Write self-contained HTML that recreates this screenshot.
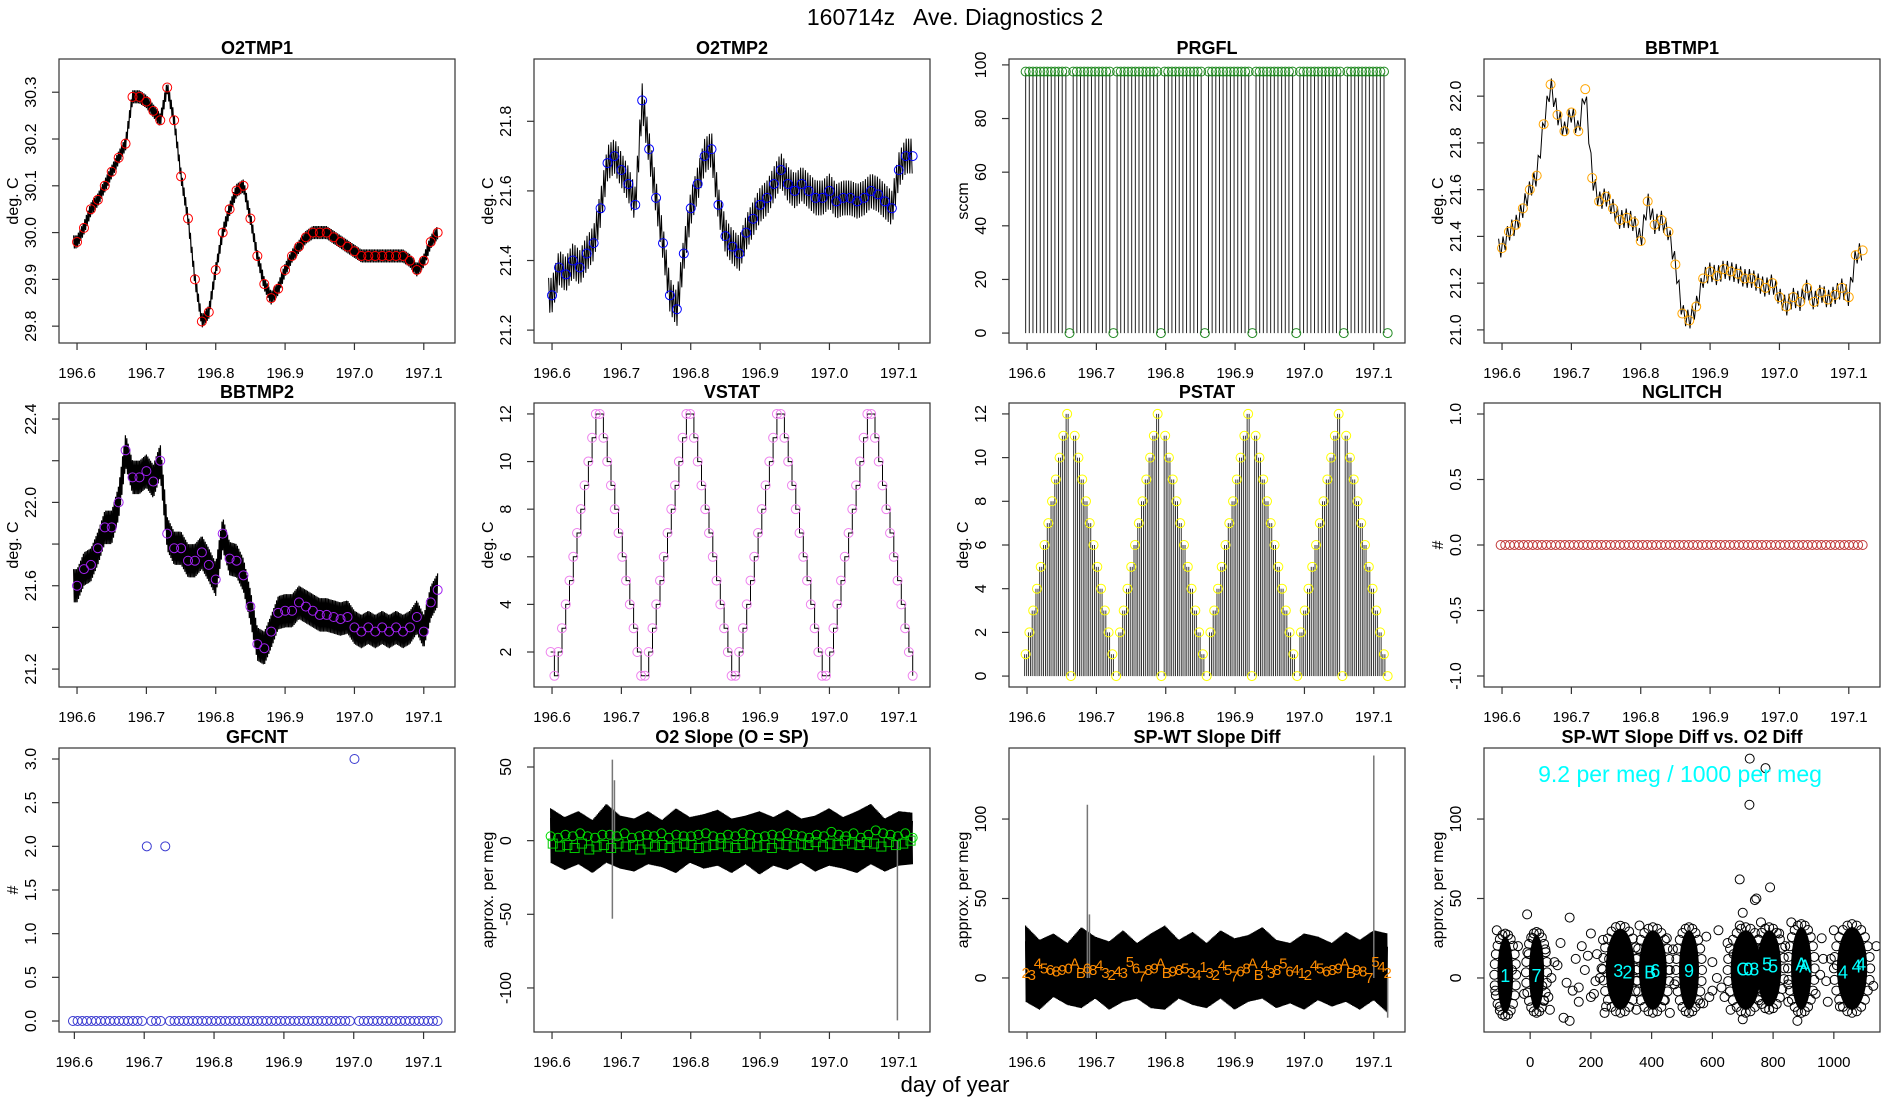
<!DOCTYPE html>
<html><head><meta charset="utf-8"><style>
html,body{margin:0;padding:0;background:#fff;}
svg{display:block;font-family:"Liberation Sans",sans-serif;}
</style></head><body>
<svg id="chart" width="1900" height="1100" viewBox="0 0 1900 1100" xmlns="http://www.w3.org/2000/svg">
<text x="955" y="25" font-size="23" text-anchor="middle" style="white-space:pre">160714z   Ave. Diagnostics 2</text>
<text x="955" y="1092" font-size="22" text-anchor="middle">day of year</text>
</svg>
<script>
// ---------- data ----------
const tempT0 = 196.60, tempDT = 0.01;
const o2tmp1 = [29.98,30.01,30.05,30.07,30.10,30.13,30.16,30.19,30.29,30.29,30.28,30.26,30.24,30.31,30.24,30.12,30.03,29.90,29.81,29.83,29.92,30.00,30.05,30.09,30.10,30.03,29.95,29.89,29.86,29.88,29.92,29.95,29.97,29.99,30.00,30.00,30.00,29.99,29.98,29.97,29.96,29.95,29.95,29.95,29.95,29.95,29.95,29.95,29.94,29.92,29.94,29.98,30.00];
const o2tmp2 = [21.30,21.38,21.36,21.40,21.38,21.42,21.45,21.55,21.68,21.70,21.66,21.62,21.56,21.86,21.72,21.58,21.45,21.30,21.26,21.42,21.55,21.62,21.70,21.72,21.56,21.47,21.44,21.42,21.48,21.52,21.56,21.58,21.62,21.66,21.62,21.60,21.62,21.60,21.58,21.58,21.60,21.57,21.58,21.58,21.57,21.58,21.60,21.59,21.57,21.55,21.66,21.70,21.70];
const bbtmp1 = [21.35,21.42,21.45,21.52,21.60,21.66,21.88,22.05,21.92,21.85,21.93,21.85,22.03,21.65,21.55,21.57,21.52,21.47,21.48,21.46,21.38,21.55,21.45,21.47,21.42,21.28,21.07,21.04,21.10,21.22,21.25,21.23,21.26,21.25,21.24,21.22,21.22,21.20,21.18,21.20,21.14,21.10,21.14,21.12,21.18,21.12,21.16,21.13,21.15,21.18,21.14,21.32,21.34];
const bbtmp2 = [21.60,21.68,21.70,21.78,21.88,21.88,22.00,22.25,22.12,22.12,22.15,22.10,22.20,21.85,21.78,21.78,21.72,21.72,21.76,21.70,21.63,21.85,21.73,21.72,21.65,21.50,21.32,21.30,21.38,21.47,21.48,21.48,21.52,21.50,21.48,21.46,21.46,21.45,21.44,21.45,21.40,21.38,21.40,21.38,21.40,21.38,21.40,21.38,21.40,21.45,21.38,21.52,21.58];
const noiseSpread = [0.014, 0.05, 0.04, 0.08];
const prgfl = [97,97,97,97,97,97,97,97,97,97,97,97,0,97,97,97,97,97,97,97,97,97,97,97,0,97,97,97,97,97,97,97,97,97,97,97,97,0,97,97,97,97,97,97,97,97,97,97,97,0,97,97,97,97,97,97,97,97,97,97,97,97,0,97,97,97,97,97,97,97,97,97,97,97,0,97,97,97,97,97,97,97,97,97,97,97,97,0,97,97,97,97,97,97,97,97,97,97,97,0];
const vstat = [2,1,2,3,4,5,6,7,8,9,10,11,12,12,11,10,9,8,7,6,5,4,3,2,1,1,2,3,4,5,6,7,8,9,10,11,12,12,11,10,9,8,7,6,5,4,3,2,1,1,2,3,4,5,6,7,8,9,10,11,12,12,11,10,9,8,7,6,5,4,3,2,1,1,2,3,4,5,6,7,8,9,10,11,12,12,11,10,9,8,7,6,5,4,3,2,1];
const pstat = [1,2,3,4,5,6,7,8,9,10,11,12,0,11,10,9,8,7,6,5,4,3,2,1,0,2,3,4,5,6,7,8,9,10,11,12,0,11,10,9,8,7,6,5,4,3,2,1,0,2,3,4,5,6,7,8,9,10,11,12,0,11,10,9,8,7,6,5,4,3,2,1,0,2,3,4,5,6,7,8,9,10,11,12,0,11,10,9,8,7,6,5,4,3,2,1,0];
const nglitch = [0,0,0,0,0,0,0,0,0,0,0,0,0,0,0,0,0,0,0,0,0,0,0,0,0,0,0,0,0,0,0,0,0,0,0,0,0,0,0,0,0,0,0,0,0,0,0,0,0,0,0,0,0,0,0,0,0,0,0,0,0,0,0,0,0,0,0,0,0,0,0,0,0,0,0,0,0,0,0,0];
const gfcnt = [0,0,0,0,0,0,0,0,0,0,0,0,0,0,0,0,2,0,0,0,2,0,0,0,0,0,0,0,0,0,0,0,0,0,0,0,0,0,0,0,0,0,0,0,0,0,0,0,0,0,0,0,0,0,0,0,0,0,0,0,0,3,0,0,0,0,0,0,0,0,0,0,0,0,0,0,0,0,0,0];
const slopeHi = [22,16,20,14,25,17,15,20,14,22,16,18,21,15,17,20,16,21,15,17,22,16,20,25,15,20,19];
const slopeLo = [-15,-20,-16,-22,-15,-19,-21,-16,-18,-22,-15,-19,-17,-22,-16,-23,-17,-20,-15,-21,-17,-19,-22,-16,-21,-17,-16];
const slopeSpikeT = [196.687,196.690,196.687,197.098];
const slopeSpikeV = [55,41,-53,-122];
const slopeCirc = [3,2,4,3,5,3,2,4,4,3,5,2,3,4,3,5,2,4,3,3,4,5,3,2,4,3,5,4,2,3,4,3,5,4,3,2,4,3,6,4,3,5,2,4,7,5,4,3,5,2];
const slopeSq = [-2,-4,-3,-5,-2,-6,-4,-3,-5,-2,-4,-3,-6,-2,-4,-3,-5,-4,-2,-3,-5,-4,-3,-2,-4,-5,-3,-2,-4,-3,-5,-2,-3,-4,-2,-3,-1,-4,-2,-3,0,-2,-3,-1,-2,-4,-1,-3,-2,0];
const diffHi = [33,24,28,22,32,26,23,30,22,28,33,24,29,22,30,25,27,32,24,22,28,26,22,29,24,30,28];
const diffLo = [-15,-20,-12,-17,-19,-13,-20,-15,-13,-19,-20,-13,-17,-19,-13,-20,-15,-13,-19,-16,-20,-14,-18,-15,-20,-14,-22];
const diffSpikeT = [196.687,196.690,197.100,197.120];
const diffSpikeV = [109,40,140,-25];
const diffLab = ["2","3","4","5","6","8","9","0","A","B","6","8","4","3","2","4","3","5","6","7","8","9","A","B","9","8","5","3","4","1","3","2","4","5","7","6","8","A","B","4","3","8","5","6","4","1","2","4","5","6","8","9","A","B","9","8","7","5","4","2"];
const diffLabV = [3,2,9,6,5,4,5,6,9,3,6,5,8,3,2,4,3,10,6,1,5,6,9,3,4,5,6,3,2,7,3,2,8,5,1,4,6,9,2,8,3,5,9,4,5,3,2,8,6,4,5,6,9,3,5,4,0,10,7,3];
const clusterX = [-82,21,297,404,523,710,787,893,1060];
const clusterHW = [26,25,48,46,33,50,40,34,50];
const clusterLo = [-22,-20,-20,-20,-20,-20,-18,-20,-20];
const clusterHi = [26,27,31,30,30,30,30,32,32];
const scX = [-110,-100,-60,-40,-20,-5,10,40,50,60,80,100,110,120,130,150,160,170,180,200,210,220,230,240,250,260,350,360,440,450,460,470,560,580,600,620,640,650,660,670,680,690,700,720,740,760,780,820,840,850,860,880,940,960,980,1000,1010,1020,1130,1140,-10,130,700,723,690,790,745,740,880,722,775,70,90,140,190,215,235,270,455,475,600,615,630,955,975,990,-115,45,65,160,200,245,570,590,850,965];
const scY = [30,-18,5,20,-10,15,25,-5,18,-12,10,22,-25,-3,38,12,-15,20,5,28,-10,15,0,24,-18,12,-20,33,-14,25,-22,18,-16,26,-8,30,-12,22,-20,15,8,33,-26,25,18,35,-10,28,20,-15,35,-8,-10,25,-15,30,8,-18,-5,20,40,-27,41,138,62,57,50,49,-27,109,132,0,8,-8,14,-2,6,18,5,-4,10,0,-6,2,-2,12,-8,-14,-20,-6,-12,-22,-16,-12,-4,12];
const labX = [-82,21,290,320,395,412,523,700,718,738,780,800,893,905,1030,1075,1090];
const labY = [2,2,5,4,4,5,5,6,6,6,9,8,9,8,4,8,9];
const labT = ["1","7","3","2","B","6","9","C","0","8","5","5","A","A","4","4","4"];

// ---------- helpers ----------
const NS = 'http://www.w3.org/2000/svg';
const svg = document.getElementById('chart');
function mk(tag, attrs, parent) {
  const e = document.createElementNS(NS, tag);
  for (const k in attrs) e.setAttribute(k, attrs[k]);
  (parent || svg).appendChild(e);
  return e;
}
function lin(d0, d1, r0, r1) { return v => r0 + (v - d0) * (r1 - r0) / (d1 - d0); }
function interp(arr, t0, dt, t) {
  let f = (t - t0) / dt; if (f < 0) f = 0; if (f > arr.length - 1) f = arr.length - 1;
  const i = Math.floor(f), j = Math.min(i + 1, arr.length - 1), a = f - i;
  return arr[i] * (1 - a) + arr[j] * a;
}
const TIME0 = 196.574, TIME1 = 197.145;
const timeTicks = [196.6, 196.7, 196.8, 196.9, 197.0, 197.1];

function panel(key, title, col, row, xd, yd, yticks, ylabels, ytitle, xticks, xlabels) {
  const L = 59 + 475 * col, W = 396, T = [59, 403, 748][row], H = 284;
  const R = L + W, B = T + H;
  const g = mk('g', {});
  
  
  const x = lin(xd[0], xd[1], L, R), y = lin(yd[0], yd[1], B, T);
  const tt = mk('text', {x: L + W / 2, y: T - 5, 'font-size': 18, 'font-weight': 'bold', 'text-anchor': 'middle'}, g);
  tt.textContent = title;
  
  
  const clip = mk('clipPath', {id: 'clip-' + key}, g);
  mk('rect', {x: L, y: T, width: W, height: H}, clip);
  const plot = mk('g', {'clip-path': 'url(#clip-' + key + ')'}, g);
  
  
  const axes = mk('g', {stroke: '#333', 'stroke-width': 1.2}, g);
  
  
  const box = mk('rect', {x: L, y: T, width: W, height: H, fill: 'none'}, axes);
  
  
  xticks.forEach((v, i) => {
    const px = x(v);
    mk('line', {x1: px, y1: B, x2: px, y2: B + 7}, axes);
    const lb = mk('text', {x: px, y: B + 35, 'font-size': 15, 'text-anchor': 'middle', stroke: 'none', fill: '#000'}, g);
    lb.textContent = xlabels[i];
    
    
  });
  yticks.forEach((v, i) => {
    const py = y(v);
    mk('line', {x1: L - 7, y1: py, x2: L, y2: py}, axes);
    if (ylabels[i] !== '') {
      const lb = mk('text', {x: 0, y: 0, 'font-size': 16, 'text-anchor': 'middle', transform: 'translate(' + (L - 23) + ',' + py + ') rotate(-90)'}, g);
      lb.textContent = ylabels[i];
      
      
    }
  });
  const yt = mk('text', {x: 0, y: 0, 'font-size': 16, 'text-anchor': 'middle', transform: 'translate(' + (L - 41) + ',' + (T + H / 2) + ') rotate(-90)'}, g);
  yt.textContent = ytitle;
  
  
  return {g: plot, x, y, L, R, T, B};
}
function fmt(v, d) { return v.toFixed(d); }
const timeLabels = timeTicks.map(v => fmt(v, 1));

function zigzag(p, loF, hiF, t0, t1, step, color, name, sw) {
  let pts = [];
  let k = 0;
  for (let px = p.x(t0); px <= p.x(t1); px += step, k++) {
    const t = t0 + (px - p.x(t0)) / (p.x(t1) - p.x(t0)) * (t1 - t0);
    const v = (k % 2 === 0) ? hiF(t) : loF(t);
    pts.push(px.toFixed(1) + ',' + p.y(v).toFixed(1));
  }
  const pl = mk('polyline', {points: pts.join(' '), fill: 'none', stroke: color, 'stroke-width': sw || 1}, p.g);
  
  
}
function circles(p, ts, vs, color, name, r) {
  ts.forEach((t, i) => {
    const c = mk('circle', {cx: p.x(t), cy: p.y(vs[i]), r: r || 4.5, fill: 'none', stroke: color, 'stroke-width': 1}, p.g);
    
    
  });
}
function tempPanel(key, title, col, row, yd, yt, yl, arr, spread, color, step, sw) {
  const p = panel(key, title, col, row, [TIME0, TIME1], yd, yt, yl, 'deg. C', timeTicks, timeLabels);
  const t1 = tempT0 + tempDT * (arr.length - 1);
  zigzag(p, t => interp(arr, tempT0, tempDT, t) - spread, t => interp(arr, tempT0, tempDT, t) + spread, tempT0 - 0.005, t1, step, '#000', key + '-series-line', sw);
  const ts = arr.map((_, i) => tempT0 + tempDT * i);
  circles(p, ts, arr, color, key + '-point');
}

// ---------- row 1 ----------
tempPanel('o2tmp1', 'O2TMP1', 0, 0, [29.764, 30.371], [29.8, 29.9, 30.0, 30.1, 30.2, 30.3], ['29.8', '29.9', '30.0', '30.1', '30.2', '30.3'], o2tmp1, noiseSpread[0], '#ff0000', 0.8, 1.2);
tempPanel('o2tmp2', 'O2TMP2', 1, 0, [21.163, 21.979], [21.2, 21.4, 21.6, 21.8], ['21.2', '21.4', '21.6', '21.8'], o2tmp2, noiseSpread[1], '#0000ff', 1.2, 1);

(function () {
  const p = panel('prgfl', 'PRGFL', 2, 0, [TIME0, TIME1], [-3.7, 102.2], [0, 20, 40, 60, 80, 100], ['0', '20', '40', '60', '80', '100'], 'sccm', timeTicks, timeLabels);
  const t0 = 196.598, t1 = 197.12, dt = (t1 - t0) / (prgfl.length - 1);
  const ts = prgfl.map((_, i) => t0 + dt * i);
  ts.forEach((t, i) => {
    if (prgfl[i] === 0) return;
    const l = mk('line', {x1: p.x(t), y1: p.y(0), x2: p.x(t), y2: p.y(prgfl[i]), stroke: '#222', 'stroke-width': 1}, p.g);
    
    
  });
  circles(p, ts, prgfl.map(v => v === 0 ? 0 : v + 0.5), '#228b22', 'prgfl-point');
})();

tempPanel('bbtmp1', 'BBTMP1', 3, 0, [20.944, 22.159], [21.0, 21.2, 21.4, 21.6, 21.8, 22.0], ['21.0', '21.2', '21.4', '21.6', '21.8', '22.0'], bbtmp1, noiseSpread[2], '#ffa500', 2.2, 1);

// ---------- row 2 ----------
tempPanel('bbtmp2', 'BBTMP2', 0, 1, [21.114, 22.477], [21.2, 21.4, 21.6, 21.8, 22.0, 22.2, 22.4], ['21.2', '', '21.6', '', '22.0', '', '22.4'], bbtmp2, noiseSpread[3], '#a020f0', 0.7, 1.2);

(function () {
  const p = panel('vstat', 'VSTAT', 1, 1, [TIME0, TIME1], [0.53, 12.46], [2, 4, 6, 8, 10, 12], ['2', '4', '6', '8', '10', '12'], 'deg. C', timeTicks, timeLabels);
  const t0 = 196.598, t1 = 197.12, dt = (t1 - t0) / (vstat.length - 1);
  const ts = vstat.map((_, i) => t0 + dt * i);
  let d = 'M' + p.x(ts[0]) + ',' + p.y(vstat[0]);
  for (let i = 1; i < vstat.length; i++) d += ' H' + p.x(ts[i]).toFixed(1) + ' V' + p.y(vstat[i]).toFixed(1);
  const path = mk('path', {d: d, fill: 'none', stroke: '#000', 'stroke-width': 1}, p.g);
  
  
  circles(p, ts, vstat, '#ee82ee', 'vstat-point');
})();

(function () {
  const p = panel('pstat', 'PSTAT', 2, 1, [TIME0, TIME1], [-0.5, 12.5], [0, 2, 4, 6, 8, 10, 12], ['0', '2', '4', '6', '8', '10', '12'], 'deg. C', timeTicks, timeLabels);
  const t0 = 196.598, t1 = 197.12, dt = (t1 - t0) / (pstat.length - 1);
  const ts = pstat.map((_, i) => t0 + dt * i);
  ts.forEach((t, i) => {
    if (pstat[i] === 0) return;
    [-1, 1].forEach(o => {
      const l = mk('line', {x1: p.x(t) + o, y1: p.y(0), x2: p.x(t) + o, y2: p.y(pstat[i]), stroke: '#222', 'stroke-width': 0.9}, p.g);
      
      
    });
  });
  circles(p, ts, pstat, '#ffff00', 'pstat-point');
})();

(function () {
  const p = panel('nglitch', 'NGLITCH', 3, 1, [TIME0, TIME1], [-1.084, 1.084], [-1, -0.5, 0, 0.5, 1], ['-1.0', '-0.5', '0.0', '0.5', '1.0'], '#', timeTicks, timeLabels);
  const t0 = 196.598, t1 = 197.12, dt = (t1 - t0) / (nglitch.length - 1);
  circles(p, nglitch.map((_, i) => t0 + dt * i), nglitch, '#c03838', 'nglitch-point');
})();

// ---------- row 3 ----------
(function () {
  const p = panel('gfcnt', 'GFCNT', 0, 2, [196.578, 197.145], [-0.126, 3.126], [0, 0.5, 1, 1.5, 2, 2.5, 3], ['0.0', '0.5', '1.0', '1.5', '2.0', '2.5', '3.0'], '#', timeTicks, timeLabels);
  const t0 = 196.598, t1 = 197.12, dt = (t1 - t0) / (gfcnt.length - 1);
  circles(p, gfcnt.map((_, i) => t0 + dt * i), gfcnt, '#3a3ad0', 'gfcnt-point');
})();

function bandPanel(p, hi, lo, spT, spV, key) {
  const t0 = 196.598, t1 = 197.12, dt = (t1 - t0) / (hi.length - 1);
  zigzag(p, t => interp(lo, t0, dt, t), t => interp(hi, t0, dt, t), t0, t1, 0.6, '#000', key + '-series-band', 1.2);
  zigzag(p, t => interp(lo, t0, dt, t) * 0.7, t => interp(hi, t0, dt, t) * 0.7, t0, t1, 0.9, '#000', key + '-series-band', 1.2);
  spT.forEach((t, i) => {
    const l = mk('line', {x1: p.x(t), y1: p.y(0), x2: p.x(t), y2: p.y(spV[i]), stroke: '#777', 'stroke-width': 1.5}, p.g);
    
    
  });
}

(function () {
  const p = panel('o2slope', 'O2 Slope (O = SP)', 1, 2, [TIME0, TIME1], [-129.9, 62.9], [-100, -50, 0, 50], ['-100', '-50', '0', '50'], 'approx. per meg', timeTicks, timeLabels);
  bandPanel(p, slopeHi, slopeLo, slopeSpikeT, slopeSpikeV, 'o2slope');
  const t0 = 196.598, t1 = 197.12;
  const dtc = (t1 - t0) / (slopeCirc.length - 1);
  circles(p, slopeCirc.map((_, i) => t0 + dtc * i), slopeCirc, '#00dd00', 'o2slope-circle-point');
  const dts = (t1 - t0 - 0.006) / (slopeSq.length - 1);
  slopeSq.forEach((v, i) => {
    const r = mk('rect', {x: p.x(t0 + 0.003 + dts * i) - 4.5, y: p.y(v) - 4.5, width: 9, height: 9, fill: 'none', stroke: '#00cc00', 'stroke-width': 1}, p.g);
    
    
  });
})();

(function () {
  const p = panel('spwt', 'SP-WT Slope Diff', 2, 2, [TIME0, TIME1], [-34.0, 144.7], [0, 50, 100], ['0', '50', '100'], 'approx. per meg', timeTicks, timeLabels);
  bandPanel(p, diffHi, diffLo, diffSpikeT, diffSpikeV, 'spwt');
  const t0 = 196.598, t1 = 197.12, dt = (t1 - t0) / (diffLab.length - 1);
  diffLab.forEach((s, i) => {
    const tx = mk('text', {x: p.x(t0 + dt * i), y: p.y(diffLabV[i]) + 5, 'font-size': 15, fill: '#ff8c00', 'text-anchor': 'middle'}, p.g);
    tx.textContent = s;
    
    
  });
})();

(function () {
  const xt = [0, 200, 400, 600, 800, 1000];
  const p = panel('scatter', 'SP-WT Slope Diff vs. O2 Diff', 3, 2, [-152, 1152], [-34.0, 144.7], [0, 50, 100], ['0', '50', '100'], 'approx. per meg', xt, xt.map(String));
  scX.forEach((v, i) => {
    const c = mk('circle', {cx: p.x(v), cy: p.y(scY[i]), r: 4.5, fill: 'none', stroke: '#000', 'stroke-width': 1}, p.g);
    
    
  });
  clusterX.forEach((cx, i) => {
    const rx = (p.x(cx + clusterHW[i]) - p.x(cx - clusterHW[i])) / 2;
    const ry = (p.y(clusterLo[i]) - p.y(clusterHi[i])) / 2;
    const cy = (p.y(clusterLo[i]) + p.y(clusterHi[i])) / 2;
    for (let a = 0; a < 360; a += 15) {
      const rad = a * Math.PI / 180;
      const c = mk('circle', {cx: p.x(cx) + Math.cos(rad) * (rx + 3), cy: cy + Math.sin(rad) * (ry + 3), r: 4.5, fill: 'none', stroke: '#000', 'stroke-width': 1}, p.g);
      
      
    }
    const e = mk('ellipse', {cx: p.x(cx), cy: cy, rx: rx, ry: ry, fill: '#000'}, p.g);
    
    
  });
  labT.forEach((s, i) => {
    const tx = mk('text', {x: p.x(labX[i]), y: p.y(labY[i]) + 7, 'font-size': 18, fill: '#00ffff', 'text-anchor': 'middle'}, p.g);
    tx.textContent = s;
    
    
  });
  const ann = mk('text', {x: 1680, y: 782, 'font-size': 23, fill: '#00ffff', 'text-anchor': 'middle'}, p.g);
  ann.textContent = '9.2 per meg / 1000 per meg';
  
  
})();
</script>
</body></html>
